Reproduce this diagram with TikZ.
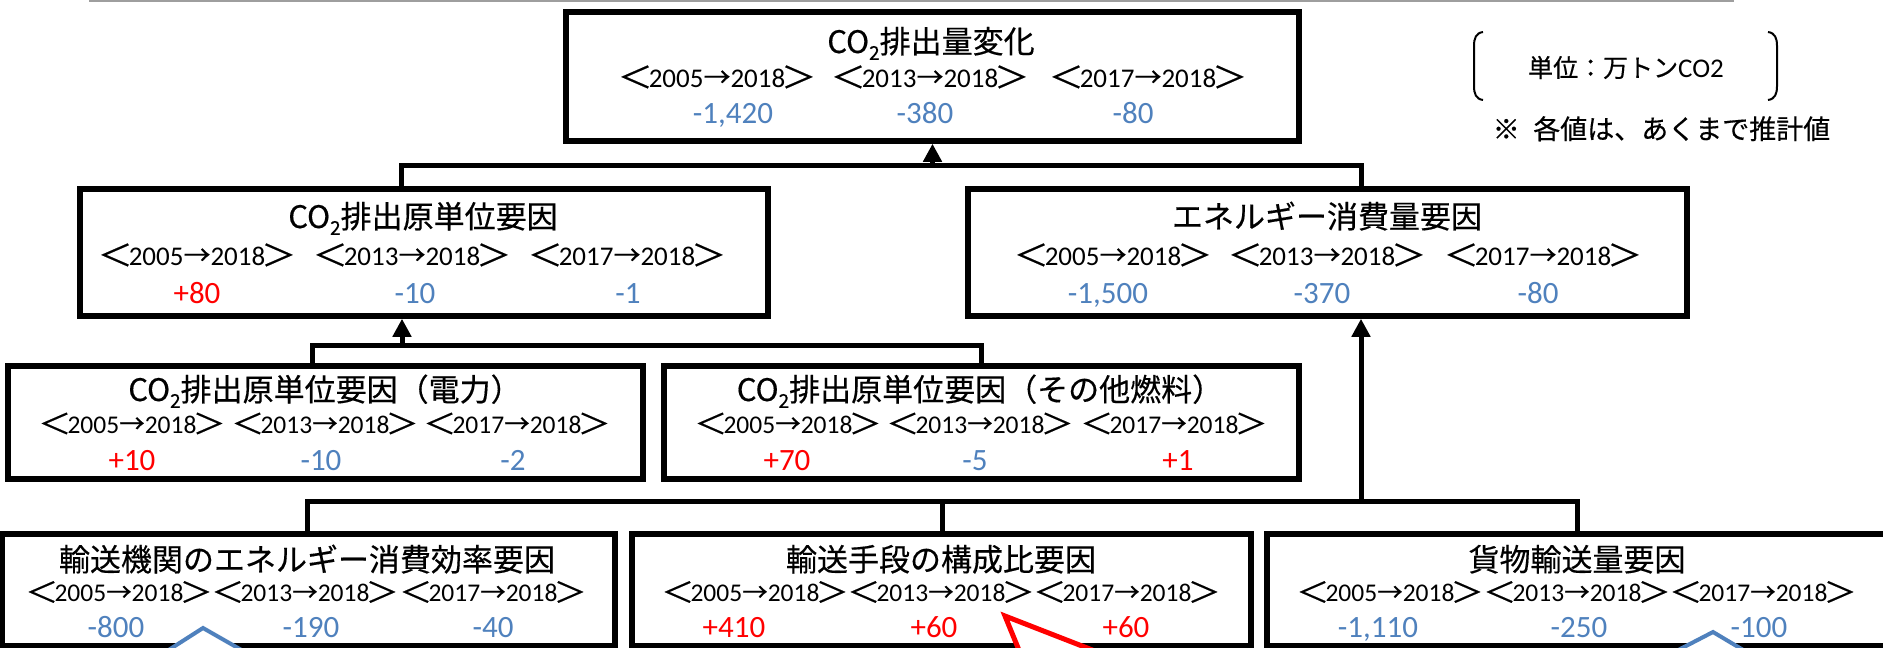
\documentclass[tikz,border=0pt]{standalone}
\usepackage{fontspec}
\setmainfont{Carlito}
\newfontfamily\jpf[FakeBold=0.4]{Noto Sans CJK JP}
\usetikzlibrary{arrows.meta}
\definecolor{valblue}{HTML}{4F81BD}
\definecolor{valred}{HTML}{FF0000}
\newcommand\brk[1]{\raisebox{-0.04em}{\scalebox{1.3}[1.1]{\makebox[0.769em]{\jpf #1}}}}
\newcommand\yrs[2]{\brk{＜}#1{\jpf →}#2\brk{＞}}
\newcommand\subtwo{\raisebox{-0.22em}{\fontsize{19}{19}\selectfont 2}}
\tikzset{
  box/.style={draw=black, line width=5.5pt, fill=white, inner sep=0pt},
  ttl/.style={inner sep=0pt, anchor=base, font=\fontsize{31}{36}\selectfont\jpf},
  yrA/.style={inner sep=0pt, anchor=base, font=\fontsize{27}{30}\selectfont},
  yrB/.style={inner sep=0pt, anchor=base, font=\fontsize{25.5}{30}\selectfont},
  vb/.style={inner sep=0pt, anchor=base, text=valblue, font=\fontsize{31}{34}\selectfont},
  vr/.style={inner sep=0pt, anchor=base, text=valred, font=\fontsize{31}{34}\selectfont},
  conn/.style={line width=5pt},
  up/.style={conn, -{Triangle[width=18pt,length=18pt]}},
  callb/.style={draw=valblue, fill=white, line width=4pt, line join=miter},
  callr/.style={draw=valred, fill=white, line width=5pt, line join=miter},
}
\begin{document}
\begin{tikzpicture}[x=1pt,y=-1pt]
\useasboundingbox (0,0) rectangle (1883,648);
\clip (0,0) rectangle (1883,648);
\fill[white] (0,0) rectangle (1883,648);
\draw[line width=2pt, black!38] (89,1) -- (1734,1);

% boxes
\node[box, minimum width=733pt, minimum height=129pt] (T) at (932.5,76.5) {};
\node[box, minimum width=688pt, minimum height=127pt] (L1) at (424,252.5) {};
\node[box, minimum width=719pt, minimum height=127pt] (R1) at (1327.5,252.5) {};
\node[box, minimum width=635pt, minimum height=113pt] (L2a) at (325.5,422.5) {};
\node[box, minimum width=635pt, minimum height=113pt] (L2b) at (981.5,422.5) {};
\node[box, minimum width=613pt, minimum height=112pt] (B1) at (308.5,590) {};
\node[box, minimum width=619pt, minimum height=112pt] (B2) at (941.5,590) {};
\node[box, minimum width=623pt, minimum height=112pt] (B3) at (1578.5,590) {};

% T texts
\node[ttl] (Tt) at (931,53) {CO\subtwo 排出量変化};
\node[yrA] (Ty1) at (717,87) {\yrs{2005}{2018}};
\node[yrA] (Ty2) at (930,87) {\yrs{2013}{2018}};
\node[yrA] (Ty3) at (1148,87) {\yrs{2017}{2018}};
\node[vb] (Tv1) at (733,123) {-1,420};
\node[vb] (Tv2) at (925,123) {-380};
\node[vb] (Tv3) at (1133,123) {-80};

% L1 texts
\node[ttl] (L1t) at (423,228) {CO\subtwo 排出原単位要因};
\node[yrA] (L1y1) at (197,265) {\yrs{2005}{2018}};
\node[yrA] (L1y2) at (412,265) {\yrs{2013}{2018}};
\node[yrA] (L1y3) at (627,265) {\yrs{2017}{2018}};
\node[vr] (L1v1) at (197,303) {+80};
\node[vb] (L1v2) at (415,303) {-10};
\node[vb] (L1v3) at (628,303) {-1};

% R1 texts
\node[ttl] (R1t) at (1327,228) {エネルギー消費量要因};
\node[yrA] (R1y1) at (1113,265) {\yrs{2005}{2018}};
\node[yrA] (R1y2) at (1327,265) {\yrs{2013}{2018}};
\node[yrA] (R1y3) at (1543,265) {\yrs{2017}{2018}};
\node[vb] (R1v1) at (1108,303) {-1,500};
\node[vb] (R1v2) at (1322,303) {-370};
\node[vb] (R1v3) at (1538,303) {-80};

% L2a texts
\node[ttl] (L2at) at (325,401) {CO\subtwo 排出原単位要因（電力）};
\node[yrB] (L2ay1) at (132,433) {\yrs{2005}{2018}};
\node[yrB] (L2ay2) at (325,433) {\yrs{2013}{2018}};
\node[yrB] (L2ay3) at (517,433) {\yrs{2017}{2018}};
\node[vr] (L2av1) at (132,470) {+10};
\node[vb] (L2av2) at (321,470) {-10};
\node[vb] (L2av3) at (513,470) {-2};

% L2b texts
\node[ttl] (L2bt) at (980,401) {CO\subtwo 排出原単位要因（その他燃料）};
\node[yrB] (L2by1) at (788,433) {\yrs{2005}{2018}};
\node[yrB] (L2by2) at (980,433) {\yrs{2013}{2018}};
\node[yrB] (L2by3) at (1174,433) {\yrs{2017}{2018}};
\node[vr] (L2bv1) at (787,470) {+70};
\node[vb] (L2bv2) at (975,470) {-5};
\node[vr] (L2bv3) at (1178,470) {+1};

% B1 texts
\node[ttl] (B1t) at (307,571) {輸送機関のエネルギー消費効率要因};
\node[yrB] (B1y1) at (119,601.5) {\yrs{2005}{2018}};
\node[yrB] (B1y2) at (305,601.5) {\yrs{2013}{2018}};
\node[yrB] (B1y3) at (493,601.5) {\yrs{2017}{2018}};
\node[vb] (B1v1) at (116,637) {-800};
\node[vb] (B1v2) at (311,637) {-190};
\node[vb] (B1v3) at (493,637) {-40};

% B2 texts
\node[ttl] (B2t) at (941,571) {輸送手段の構成比要因};
\node[yrB] (B2y1) at (755,601.5) {\yrs{2005}{2018}};
\node[yrB] (B2y2) at (941,601.5) {\yrs{2013}{2018}};
\node[yrB] (B2y3) at (1127,601.5) {\yrs{2017}{2018}};
\node[vr] (B2v1) at (734,637) {+410};
\node[vr] (B2v2) at (934,637) {+60};
\node[vr] (B2v3) at (1126,637) {+60};

% B3 texts
\node[ttl] (B3t) at (1577,571) {貨物輸送量要因};
\node[yrB] (B3y1) at (1390,601.5) {\yrs{2005}{2018}};
\node[yrB] (B3y2) at (1577,601.5) {\yrs{2013}{2018}};
\node[yrB] (B3y3) at (1763,601.5) {\yrs{2017}{2018}};
\node[vb] (B3v1) at (1378,637) {-1,110};
\node[vb] (B3v2) at (1579,637) {-250};
\node[vb] (B3v3) at (1759,637) {-100};

% connectors
\coordinate (b1l) at (401,165);
\coordinate (b1r) at (1361,165);
\draw[conn] (b1l |- L1.north) -- (b1l) -- (b1r) -- (b1r |- R1.north);
\draw[up] (T.south |- b1l) -- (T.south);

\coordinate (b2l) at (312,345);
\coordinate (b2r) at (981,345);
\coordinate (b2a) at (402,345);
\draw[conn] (b2l |- L2a.north) -- (b2l) -- (b2r) -- (b2r |- L2b.north);
\draw[up] (b2a) -- (b2a |- L1.south);

\coordinate (b3l) at (307,501);
\coordinate (b3m) at (942,501);
\coordinate (b3r) at (1577,501);
\coordinate (b3a) at (1361,501);
\draw[conn] (b3l |- B1.north) -- (b3l) -- (b3r) -- (b3r |- B3.north);
\draw[conn] (b3m) -- (b3m |- B2.north);
\draw[up] (b3a) -- (b3a |- R1.south);

% unit note
\draw[line width=2pt] (1483,32) .. controls (1476,33) and (1474,38) .. (1474,46) -- (1474,86) .. controls (1474,94) and (1476,99) .. (1483,100);
\draw[line width=2pt] (1768,32) .. controls (1775,33) and (1777,38) .. (1777,46) -- (1777,86) .. controls (1777,94) and (1775,99) .. (1768,100);
\node[inner sep=0pt, anchor=base, font=\fontsize{25}{30}\selectfont] (unit) at (1626,77) {{\jpf 単位：万トン}\fontsize{27}{30}\selectfont CO2};
\node[inner sep=0pt, anchor=base, font=\fontsize{27}{30}\selectfont\jpf] (note) at (1661.5,139) {※\hspace{0.5em}各値は、あくまで推計値};

% callouts (cut by the page edge)
\path[callb] (153,660) -- (203,628) -- (259,660);
\path[callr] (1023,660) -- (1005,616) -- (1118,660);
\path[callb] (1659,660) -- (1713,632) -- (1760,660);
\end{tikzpicture}
\end{document}
